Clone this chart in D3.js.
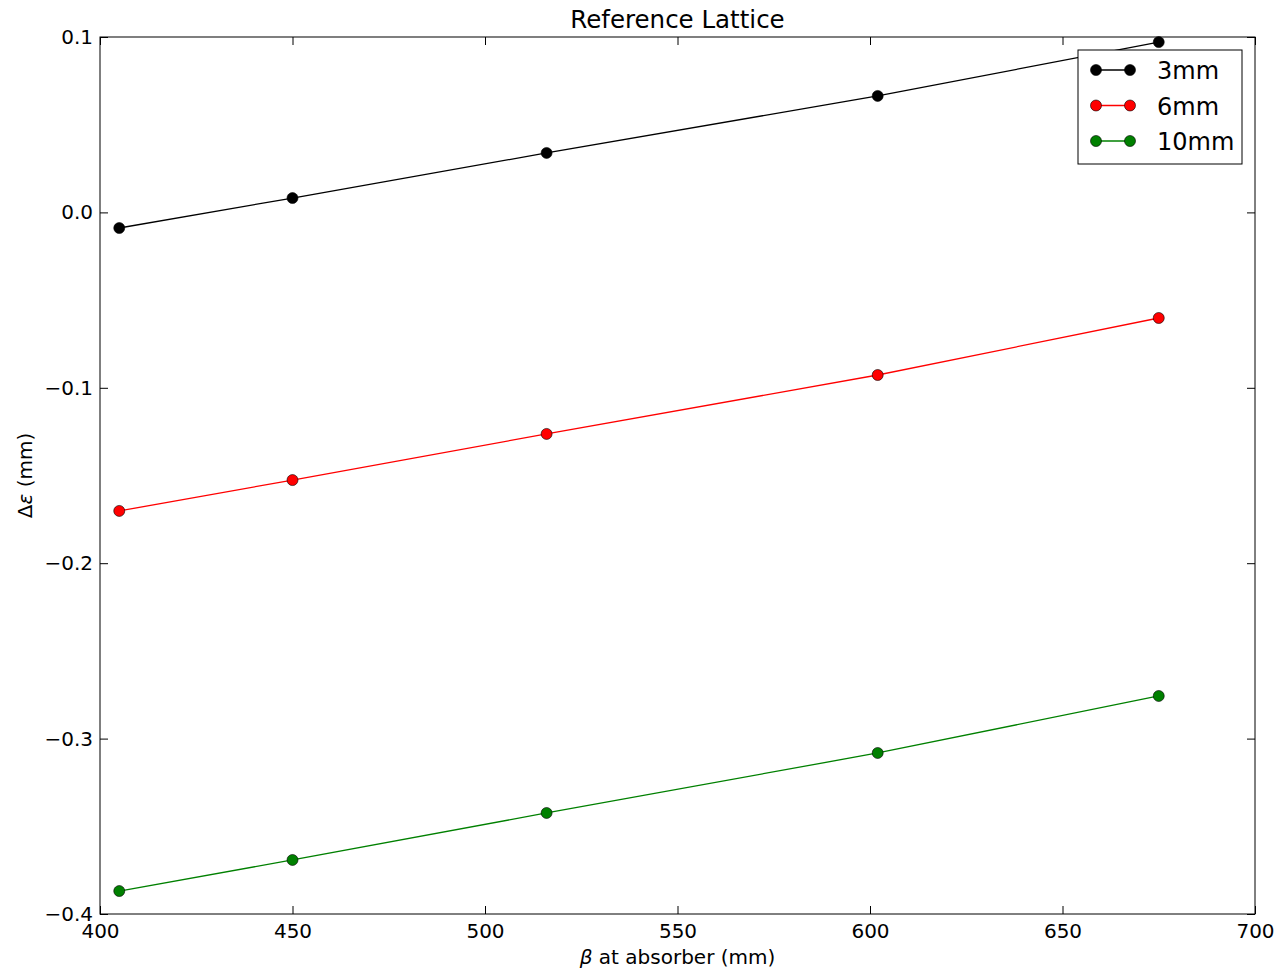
<!DOCTYPE html>
<html>
<head>
<meta charset="utf-8">
<script src="https://cdn.jsdelivr.net/npm/d3@7"></script>
<style>
  body { margin: 0; background: #fff; }
  text { font-family: "DejaVu Sans", sans-serif; }
</style>
</head>
<body>
<div id="chart"></div>
<script>
// data
const betas = [405, 450, 516, 602, 675];
const seriesNames = ['3mm', '6mm', '10mm'];
const seriesColors = ['#000000', '#ff0000', '#008000'];
const values3mm = [-0.0089, 0.0082, 0.0339, 0.0664, 0.0971];
const values6mm = [-0.1702, -0.1526, -0.1263, -0.0927, -0.0602];
const values10mm = [-0.3869, -0.3692, -0.3424, -0.3082, -0.2757];
const xTicks = [400, 450, 500, 550, 600, 650, 700];
const yTicks = [0.1, 0.0, -0.1, -0.2, -0.3, -0.4];

const width = 1280, height = 972;
let [mt, mr, mb, ml] = [37, 25, 58, 100];

const x = d3.scaleLinear([400, 700], [ml, width - mr]);
const y = d3.scaleLinear([-0.4, 0.1], [height - mb, mt]);

const svg = d3.select('#chart').append('svg')
  .attr('width', width)
  .attr('height', height);

const series = [values3mm, values6mm, values10mm].map((vals, i) => ({
  name: seriesNames[i],
  color: seriesColors[i],
  points: vals.map((v, j) => [betas[j], v])
}));

const fmtY = d => d3.format('.1f')(d).replace('-', '\u2212');

// axes, ticks pointing inward like matplotlib classic
function styleAxis(g) {
  g.select('.domain').remove();
  g.selectAll('.tick line').attr('stroke', '#000').attr('stroke-width', 1);
  g.selectAll('.tick text').attr('fill', '#000').style('font-size', '20px');
}

svg.append('g')
  .attr('transform', `translate(0,${height - mb})`)
  .call(d3.axisBottom(x).tickValues(xTicks).tickSizeInner(-8).tickSizeOuter(0).tickPadding(10).tickFormat(d3.format('d')))
  .call(styleAxis);
svg.append('g')
  .attr('transform', `translate(0,${mt})`)
  .call(d3.axisTop(x).tickValues(xTicks).tickSizeInner(-8).tickSizeOuter(0).tickFormat(''))
  .call(styleAxis);
svg.append('g')
  .attr('transform', `translate(${ml},0)`)
  .call(d3.axisLeft(y).tickValues(yTicks).tickSizeInner(-8).tickSizeOuter(0).tickPadding(7).tickFormat(fmtY))
  .call(styleAxis);
svg.append('g')
  .attr('transform', `translate(${width - mr},0)`)
  .call(d3.axisRight(y).tickValues(yTicks).tickSizeInner(-8).tickSizeOuter(0).tickFormat(''))
  .call(styleAxis);

// frame
svg.append('rect')
  .attr('x', x(400)).attr('y', y(0.1))
  .attr('width', x(700) - x(400)).attr('height', y(-0.4) - y(0.1))
  .attr('fill', 'none').attr('stroke', '#000').attr('stroke-width', 1);

const line = d3.line().x(d => x(d[0])).y(d => y(d[1]));

const sg = svg.append('g').selectAll('g').data(series).join('g');
sg.append('path')
  .attr('d', d => line(d.points))
  .attr('fill', 'none')
  .attr('stroke', d => d.color)
  .attr('stroke-width', 1.3);
sg.selectAll('circle').data(d => d.points.map(p => ({ p, c: d.color }))).join('circle')
  .attr('cx', d => x(d.p[0]))
  .attr('cy', d => y(d.p[1]))
  .attr('r', 5.5)
  .attr('fill', d => d.c)
  .attr('stroke', '#000')
  .attr('stroke-width', 0.6);

// title and axis labels
svg.append('text')
  .attr('x', (x(400) + x(700)) / 2).attr('y', 28)
  .attr('text-anchor', 'middle')
  .style('font-size', '24.5px')
  .text('Reference Lattice');
svg.append('text')
  .attr('x', (x(400) + x(700)) / 2).attr('y', 964)
  .attr('text-anchor', 'middle')
  .style('font-size', '20px')
  .call(t => t.append('tspan').style('font-style', 'italic').text('β'))
  .call(t => t.append('tspan').text(' at absorber (mm)'));
svg.append('text')
  .attr('transform', `translate(32,${(y(0.1) + y(-0.4)) / 2}) rotate(-90)`)
  .attr('text-anchor', 'middle')
  .style('font-size', '20px')
  .call(t => t.append('tspan').text('Δ'))
  .call(t => t.append('tspan').style('font-style', 'italic').text('ε'))
  .call(t => t.append('tspan').text(' (mm)'));

// legend
const lg = svg.append('g').attr('transform', 'translate(1078,50)');
lg.append('rect')
  .attr('width', 164).attr('height', 114)
  .attr('fill', '#fff').attr('stroke', '#000').attr('stroke-width', 1);
const item = lg.selectAll('g.item').data(series).join('g')
  .attr('class', 'item')
  .attr('transform', (d, i) => `translate(0,${20 + i * 35.5})`);
item.append('line')
  .attr('x1', 18).attr('x2', 52)
  .attr('stroke', d => d.color).attr('stroke-width', 1.3);
item.selectAll('circle').data(d => [18, 52].map(cx => ({ cx, c: d.color }))).join('circle')
  .attr('cx', d => d.cx).attr('r', 5.5)
  .attr('fill', d => d.c).attr('stroke', '#000').attr('stroke-width', 0.6);
item.append('text')
  .attr('x', 79).attr('y', 9)
  .style('font-size', '24px')
  .text(d => d.name);
</script>
</body>
</html>
